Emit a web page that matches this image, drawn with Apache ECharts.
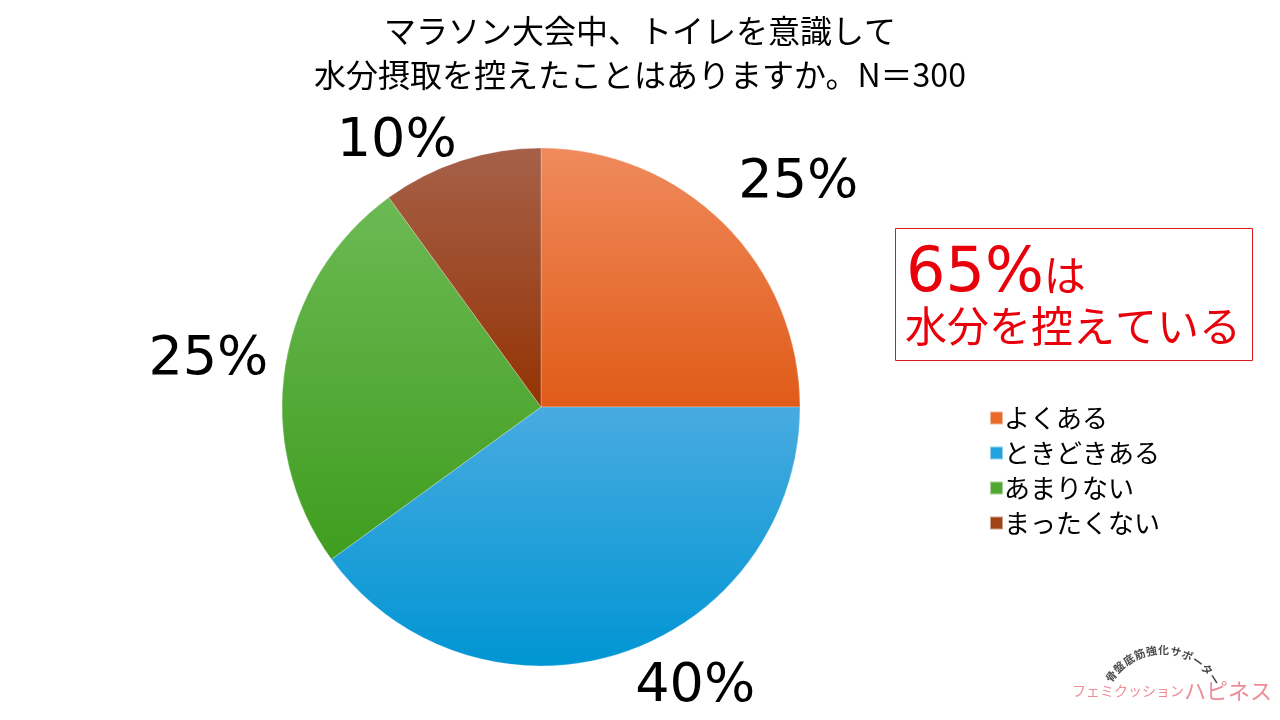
<!DOCTYPE html>
<html>
<head>
<meta charset="utf-8">
<script src="https://cdn.jsdelivr.net/npm/echarts@6/dist/echarts.min.js"></script>
<style>
html,body{margin:0;padding:0;background:#fff;}
#chart{width:1280px;height:720px;}
</style>
</head>
<body>
<div id="chart"></div>
<script>
const titleLines = ['マラソン大会中、トイレを意識して', '水分摂取を控えたことはありますか。N＝300'];
const categories = ['よくある', 'ときどきある', 'あまりない', 'まったくない'];
const values = [25, 40, 25, 10];
const topColors = ['#F08A5C', '#48ABE0', '#6CB954', '#A6614A'];
const bottomColors = ['#E05B18', '#0095D3', '#3F9D1E', '#943303'];
const legendColors = ['#E8692A', '#22A3DD', '#4EA831', '#9E4418'];
const badgeText = ['65%', 'は', '水分を控えている'];
const brandArc = '骨盤底筋強化サポーター';
const brandSmall = 'フェミクッション';
const brandLarge = 'ハピネス';

const chart = echarts.init(document.getElementById('chart'));
const FONT = '"Noto Sans CJK JP", "Noto Sans", sans-serif';
const NUMFONT = '"DejaVu Sans", "Noto Sans CJK JP", sans-serif';

const data = categories.map((name, i) => ({
  name: name,
  value: values[i],
  itemStyle: {
    color: new echarts.graphic.LinearGradient(0, 0, 0, 1, [
      { offset: 0, color: topColors[i] },
      { offset: 1, color: bottomColors[i] }
    ])
  }
}));

// label nudges to mimic the original's hand-placed labels
const nudge = [[-5, -27], [3, 15], [8, -3], [7, 0]];

// arc text for the brand mark
const arcGraphics = [];
{
  const cx = 1162, cy = 712, r = 62;
  const n = brandArc.length;
  const a0 = 145, a1 = 32;
  for (let i = 0; i < n; i++) {
    const a = (a0 + (a1 - a0) * i / (n - 1)) * Math.PI / 180;
    arcGraphics.push({
      type: 'text',
      x: cx + r * Math.cos(a),
      y: cy - r * Math.sin(a),
      rotation: a - Math.PI / 2,
      style: {
        text: brandArc[i], fontFamily: FONT, fontSize: 11, fontWeight: 'bold',
        fill: '#4a4a4a', align: 'center', verticalAlign: 'middle'
      }
    });
  }
}

chart.setOption({
  backgroundColor: '#ffffff',
  animation: false,
  title: {
    text: titleLines.join('\n'),
    left: 'center',
    top: 4,
    textStyle: { fontFamily: FONT, fontSize: 32, fontWeight: 'normal', color: '#000', lineHeight: 44 }
  },
  legend: {
    orient: 'vertical',
    left: 984,
    top: 400,
    itemWidth: 13,
    itemHeight: 13,
    itemGap: 9,
    icon: 'rect',
    data: categories.map((n, i) => ({ name: n, itemStyle: { color: legendColors[i] } })),
    textStyle: { fontFamily: FONT, fontSize: 26, color: '#000', padding: [0, 0, 0, -4] }
  },
  series: [{
    type: 'pie',
    center: [541, 407],
    radius: [0, 259],
    startAngle: 90,
    clockwise: true,
    silent: true,
    data: data,
    itemStyle: { borderColor: 'rgba(255,255,255,0.5)', borderWidth: 0.5 },
    label: {
      show: true,
      position: 'outside',
      formatter: '{c}%',
      fontFamily: NUMFONT,
      fontSize: 54,
      color: '#000'
    },
    labelLine: { show: false, length: 20, length2: 0 },
    labelLayout: function (p) {
      const d = nudge[p.dataIndex] || [0, 0];
      return { dx: d[0], dy: d[1] };
    }
  }],
  graphic: [
    {
      type: 'rect',
      shape: { x: 895.5, y: 228.5, width: 357, height: 132 },
      style: { fill: '#fff', stroke: '#D91A1A', lineWidth: 1 }
    },
    {
      type: 'text',
      left: 906, top: 244,
      style: {
        text: '{a|' + badgeText[0] + '}{b|' + badgeText[1] + '}',
        rich: {
          a: { fontFamily: NUMFONT, fontSize: 62, fill: '#E8000B', fontWeight: 'normal' },
          b: { fontFamily: FONT, fontSize: 42, fill: '#E8000B' }
        }
      }
    },
    {
      type: 'text',
      left: 905, top: 305,
      style: { text: badgeText[2], fontFamily: FONT, fontSize: 42, fill: '#E8000B' }
    },
    ...arcGraphics,
    {
      type: 'text',
      x: 1072, y: 691,
      style: {
        text: '{s|' + brandSmall + '}{l|' + brandLarge + '}',
        verticalAlign: 'middle',
        rich: {
          s: { fontFamily: FONT, fontSize: 14, fill: '#EE8C98' },
          l: { fontFamily: FONT, fontSize: 22, fill: '#EE8C98' }
        }
      }
    }
  ]
});
</script>
</body>
</html>
